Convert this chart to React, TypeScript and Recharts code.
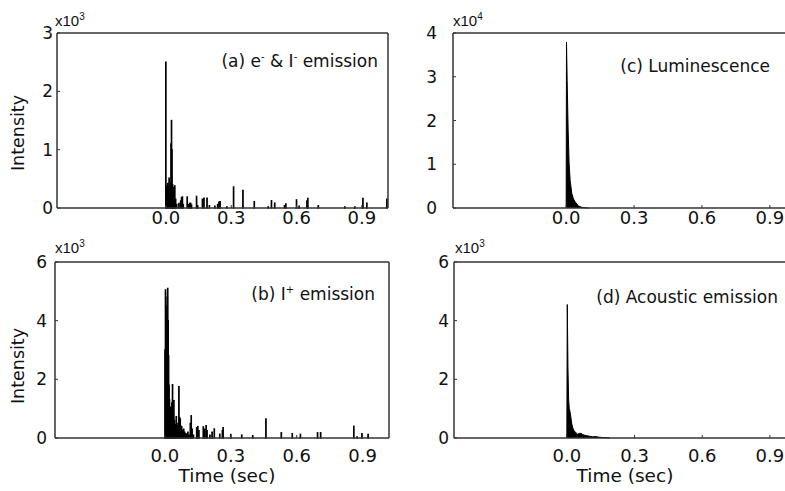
import React from 'react';
import { ComposedChart, Bar, Area, XAxis, YAxis } from 'recharts';

// time axis (sec)
const xTicks = [0, 0.3, 0.6, 0.9];
const xDomain = [-0.5, 1.02];

// (a) e- & I- emission, intensity in counts
const timesA = [0, 0.003, 0.006, 0.009, 0.012, 0.015, 0.018, 0.021, 0.024, 0.026, 0.028, 0.031, 0.034, 0.038, 0.041, 0.045, 0.05, 0.06, 0.068, 0.072, 0.076, 0.08, 0.098, 0.104, 0.11, 0.114, 0.118, 0.141, 0.146, 0.168, 0.175, 0.189, 0.2, 0.225, 0.238, 0.244, 0.249, 0.28, 0.311, 0.354, 0.406, 0.47, 0.485, 0.5, 0.545, 0.551, 0.6, 0.612, 0.648, 0.652, 0.7, 0.822, 0.868, 0.905, 0.923, 1.015];
const valuesA = [2500, 380, 350, 420, 360, 510, 300, 420, 1100, 1500, 1000, 400, 350, 250, 380, 150, 60, 80, 120, 180, 190, 60, 190, 60, 80, 80, 50, 200, 40, 150, 170, 170, 40, 30, 60, 100, 110, 20, 360, 300, 110, 20, 125, 85, 40, 70, 140, 30, 120, 165, 40, 20, 20, 165, 85, 150];

// (b) I+ emission
const timesB = [0.001, 0.003, 0.005, 0.007, 0.009, 0.011, 0.013, 0.015, 0.017, 0.019, 0.021, 0.023, 0.026, 0.029, 0.032, 0.035, 0.038, 0.041, 0.044, 0.047, 0.05, 0.052, 0.056, 0.06, 0.064, 0.067, 0.07, 0.073, 0.077, 0.082, 0.086, 0.09, 0.095, 0.1, 0.105, 0.11, 0.116, 0.12, 0.124, 0.13, 0.145, 0.15, 0.155, 0.175, 0.182, 0.188, 0.192, 0.205, 0.215, 0.225, 0.25, 0.262, 0.265, 0.3, 0.35, 0.4, 0.46, 0.53, 0.58, 0.617, 0.695, 0.709, 0.86, 0.875, 0.897, 0.925];
const valuesB = [3000, 5050, 4500, 3800, 4200, 4800, 5100, 4000, 2800, 1800, 1300, 1000, 1050, 800, 1200, 1820, 900, 1270, 600, 450, 350, 730, 400, 500, 1750, 700, 650, 400, 380, 250, 300, 200, 150, 120, 200, 100, 500, 760, 300, 100, 350, 390, 250, 380, 300, 420, 250, 100, 200, 310, 130, 250, 350, 120, 100, 80, 650, 180, 150, 125, 180, 180, 400, 40, 150, 125];

// (c) luminescence
const timesC = [0, 0.0015, 0.0044, 0.0088, 0.013, 0.0176, 0.025, 0.032, 0.04, 0.054, 0.069, 0.085, 0.1];
const valuesC = [0, 37900, 29200, 17800, 10200, 6300, 3300, 2100, 1400, 460, 150, 40, 0];

// (d) acoustic emission
const timesD = [0, 0.002, 0.005, 0.008, 0.011, 0.014, 0.018, 0.022, 0.027, 0.032, 0.04, 0.048, 0.055, 0.062, 0.07, 0.08, 0.1, 0.115, 0.128, 0.14, 0.16, 0.19];
const valuesD = [0, 4550, 2400, 1300, 1000, 900, 700, 480, 330, 250, 180, 130, 150, 160, 120, 90, 60, 40, 50, 30, 15, 0];

const yTicksA = [0, 1000, 2000, 3000];
const yTicksB = [0, 2000, 4000, 6000];
const yTicksC = [0, 10000, 20000, 30000, 40000];
const yTicksD = [0, 2000, 4000, 6000];

const FONT = '"DejaVu Sans", sans-serif';
const FRAME = '#333';
const INK = '#000';
const frameLine = { stroke: FRAME, strokeWidth: 1.5 };

const toRows = (ts: number[], vs: number[]) => ts.map((t, i) => ({ t, v: vs[i] }));

type PanelProps = {
  data: { t: number; v: number }[];
  kind: 'bar' | 'area';
  yTicks: number[];
  yScale: number;
  left: number;
  top: number;
  width: number;
  height: number;
  plotLeft: number;
  plotTop: number;
  plotRight: number;
  plotBottom: number;
  yTickMargin: number;
  xTickMargin: number;
};

const Panel = (p: PanelProps) => {
  const yMax = p.yTicks[p.yTicks.length - 1];
  return (
    <div style={{ position: 'absolute', left: p.left, top: p.top, width: p.width, height: p.height }}>
      <ComposedChart
        width={p.width}
        height={p.height}
        data={p.data}
        margin={{ top: p.plotTop - p.top - 1, right: p.left + p.width - p.plotRight - 1, left: 0, bottom: 0 }}
      >
        <XAxis
          dataKey="t"
          type="number"
          domain={xDomain}
          ticks={xTicks}
          interval={0}
          allowDataOverflow
          height={p.top + p.height - p.plotBottom}
          tickSize={-3}
          tickMargin={p.xTickMargin}
          tickFormatter={(v: number) => v.toFixed(1)}
          axisLine={frameLine}
          tickLine={{ stroke: FRAME }}
          tick={{ fill: '#111', fontSize: 18, fontFamily: FONT }}
        />
        {/* top edge of the box */}
        <XAxis
          xAxisId="top"
          orientation="top"
          dataKey="t"
          type="number"
          domain={xDomain}
          allowDataOverflow
          height={1}
          tick={false}
          tickLine={false}
          axisLine={frameLine}
        />
        <YAxis
          type="number"
          domain={[0, yMax]}
          ticks={p.yTicks}
          interval={0}
          width={p.plotLeft - p.left}
          tickSize={-3}
          tickMargin={p.yTickMargin}
          tickFormatter={(v: number) => String(v / p.yScale)}
          axisLine={frameLine}
          tickLine={{ stroke: FRAME }}
          tick={{ fill: '#111', fontSize: 17, fontFamily: FONT }}
        />
        {/* right edge of the box */}
        <YAxis
          yAxisId="right"
          orientation="right"
          type="number"
          domain={[0, yMax]}
          width={1}
          tick={false}
          tickLine={false}
          axisLine={frameLine}
        />
        {p.kind === 'bar' ? (
          <Bar dataKey="v" fill={INK} stroke={INK} strokeWidth={1.3} barSize={2} isAnimationActive={false} />
        ) : (
          <Area type="linear" dataKey="v" fill={INK} fillOpacity={1} stroke={INK} strokeWidth={1} isAnimationActive={false} />
        )}
      </ComposedChart>
    </div>
  );
};

const txt = (extra: React.CSSProperties): React.CSSProperties => ({
  position: 'absolute',
  fontFamily: FONT,
  color: '#111',
  whiteSpace: 'nowrap',
  lineHeight: 1,
  ...extra,
});

const Mult = ({ left, top, exp }: { left: number; top: number; exp: string }) => (
  <div style={txt({ left, top, fontSize: 15, fontFamily: '"Liberation Sans", Arial, sans-serif' })}>
    x10<sup style={{ fontSize: 10 }}>{exp}</sup>
  </div>
);

const Intensity = ({ cy }: { cy: number }) => (
  <div style={txt({ left: 19, top: cy, fontSize: 17.5, transform: 'translate(-50%, -50%) rotate(-90deg)' })}>
    Intensity
  </div>
);

const TimeLabel = ({ cx }: { cx: number }) => (
  <div style={txt({ left: cx, top: 467, fontSize: 18.5, transform: 'translateX(-50%)' })}>Time (sec)</div>
);

export default function App() {
  return (
    <div style={{ position: 'absolute', left: 0, top: 0, width: 785, height: 491, overflow: 'hidden', background: '#fff' }}>
      <Panel
        data={toRows(timesA, valuesA)}
        kind="bar"
        yTicks={yTicksA}
        yScale={1000}
        left={0}
        top={0}
        width={400}
        height={240}
        plotLeft={57}
        plotTop={33}
        plotRight={388}
        plotBottom={208}
        yTickMargin={7}
        xTickMargin={6}
      />
      <Panel
        data={toRows(timesB, valuesB)}
        kind="bar"
        yTicks={yTicksB}
        yScale={1000}
        left={0}
        top={240}
        width={400}
        height={251}
        plotLeft={55}
        plotTop={262}
        plotRight={389}
        plotBottom={438}
        yTickMargin={11}
        xTickMargin={14}
      />
      <Panel
        data={toRows(timesC, valuesC)}
        kind="area"
        yTicks={yTicksC}
        yScale={10000}
        left={400}
        top={0}
        width={400}
        height={240}
        plotLeft={453}
        plotTop={33}
        plotRight={797}
        plotBottom={208}
        yTickMargin={19}
        xTickMargin={6}
      />
      <Panel
        data={toRows(timesD, valuesD)}
        kind="area"
        yTicks={yTicksD}
        yScale={1000}
        left={400}
        top={240}
        width={400}
        height={251}
        plotLeft={454}
        plotTop={262}
        plotRight={797}
        plotBottom={438}
        yTickMargin={8}
        xTickMargin={14}
      />

      <Mult left={55} top={12} exp="3" />
      <Mult left={55} top={239} exp="3" />
      <Mult left={453} top={12} exp="4" />
      <Mult left={455} top={239} exp="3" />

      <Intensity cy={133} />
      <Intensity cy={366} />
      <TimeLabel cx={227} />
      <TimeLabel cx={625} />

      <div style={txt({ right: 407, top: 52, fontSize: 17 })}>
        (a) e<sup style={{ fontSize: 10 }}>-</sup> &amp; I<sup style={{ fontSize: 10 }}>-</sup> emission
      </div>
      <div style={txt({ right: 410, top: 285, fontSize: 17 })}>
        (b) I<sup style={{ fontSize: 10 }}>+</sup> emission
      </div>
      <div style={txt({ right: 15, top: 58, fontSize: 17 })}>(c) Luminescence</div>
      <div style={txt({ right: 7, top: 289, fontSize: 17 })}>(d) Acoustic emission</div>
    </div>
  );
}
